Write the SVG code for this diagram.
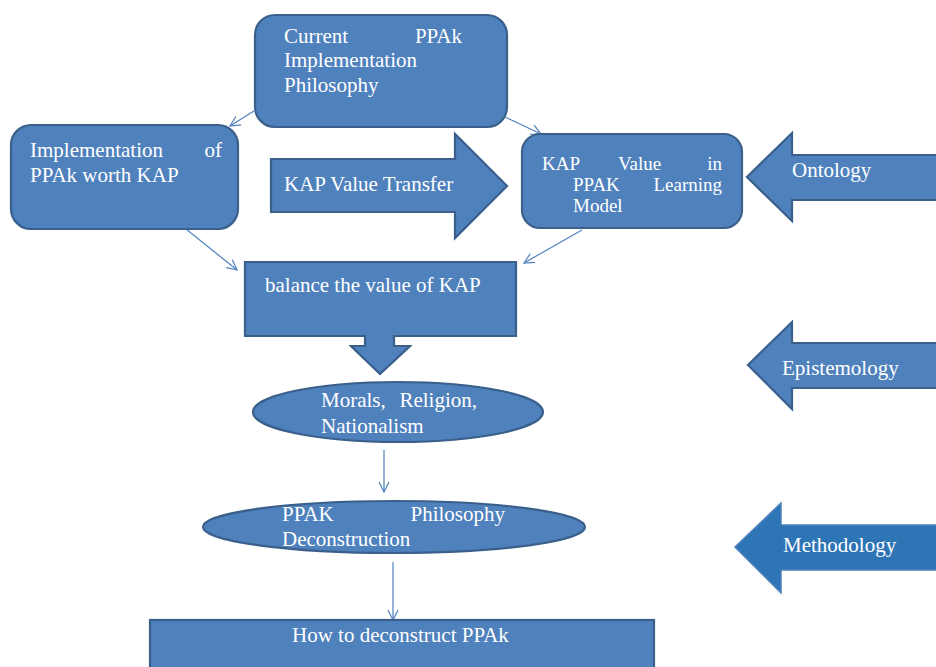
<svg xmlns="http://www.w3.org/2000/svg" width="936" height="667" viewBox="0 0 936 667">
<defs>
<style>
.s{fill:#4F81BD;stroke:#3A5F8B;stroke-width:2.2}
.m{fill:#2E75B6;stroke:#4F81BD;stroke-width:1.5}
.t{font-family:'Liberation Serif','Times New Roman',serif;font-size:21px;fill:#FFFFFF}
.k{font-size:19px}
.c{fill:none;stroke:#4F81BD;stroke-width:1.2}
</style>
<marker id="ah" markerWidth="12" markerHeight="12" refX="11" refY="6" orient="auto" markerUnits="userSpaceOnUse">
<path d="M1,1 L11,6 L1,11" fill="none" stroke="#4F81BD" stroke-width="1.2"/>
</marker>
</defs>
<rect width="936" height="667" fill="#FFFFFF"/>
<g id="connectors">
<line class="c" x1="254" y1="111" x2="230" y2="126" marker-end="url(#ah)"/>
<line class="c" x1="505" y1="117" x2="541" y2="134" marker-end="url(#ah)"/>
<line class="c" x1="186" y1="229" x2="237" y2="270" marker-end="url(#ah)"/>
<line class="c" x1="582" y1="230" x2="524" y2="263" marker-end="url(#ah)"/>
<line class="c" x1="384" y1="450" x2="384" y2="492" marker-end="url(#ah)"/>
<line class="c" x1="393" y1="562" x2="393" y2="620" marker-end="url(#ah)"/>
</g>
<g id="current">
<rect class="s" x="255" y="15" width="252" height="112" rx="20"/>
<text class="t" x="284" y="43">Current</text>
<text class="t" x="462" y="43" text-anchor="end">PPAk</text>
<text class="t" x="284" y="67">Implementation</text>
<text class="t" x="284" y="92">Philosophy</text>
</g>
<g id="implementation">
<rect class="s" x="11" y="125" width="227" height="104" rx="20"/>
<text class="t" x="30" y="157">Implementation</text>
<text class="t" x="222" y="157" text-anchor="end">of</text>
<text class="t" x="30" y="182">PPAk worth KAP</text>
</g>
<g id="transfer">
<path class="s" d="M271,159 L455,159 L455,134 L507,186 L455,238 L455,212 L271,212 Z"/>
<text class="t" x="284" y="191">KAP Value Transfer</text>
</g>
<g id="kapvalue">
<rect class="s" x="522" y="134" width="220" height="94" rx="18"/>
<text class="t k" x="542" y="170">KAP</text>
<text class="t k" x="618" y="170">Value</text>
<text class="t k" x="722" y="170" text-anchor="end">in</text>
<text class="t k" x="573" y="191">PPAK</text>
<text class="t k" x="722" y="191" text-anchor="end">Learning</text>
<text class="t k" x="573" y="212">Model</text>
</g>
<g id="ontology">
<path class="s" d="M940,155 L792,155 L792,133 L747,177 L792,221 L792,200 L940,200 Z"/>
<text class="t" x="792" y="177">Ontology</text>
</g>
<g id="balance">
<path class="s" d="M245,262 L516,262 L516,336 L394,336 L394,346 L410,346 L380,374 L351,346 L365,346 L365,336 L245,336 Z"/>
<text class="t" x="265" y="292">balance the value of KAP</text>
</g>
<g id="morals">
<ellipse class="s" cx="398" cy="412" rx="145" ry="30"/>
<text class="t" x="321" y="407">Morals,</text>
<text class="t" x="477" y="407" text-anchor="end">Religion,</text>
<text class="t" x="321" y="433">Nationalism</text>
</g>
<g id="epistemology">
<path class="s" d="M940,343 L792,343 L792,322 L748,365 L792,409 L792,388 L940,388 Z"/>
<text class="t" x="782" y="375">Epistemology</text>
</g>
<g id="deconstruction">
<ellipse class="s" cx="394" cy="527" rx="191" ry="26"/>
<text class="t" x="282" y="521">PPAK</text>
<text class="t" x="505" y="521" text-anchor="end">Philosophy</text>
<text class="t" x="282" y="546">Deconstruction</text>
</g>
<g id="methodology">
<path class="m" d="M940,525 L781,525 L781,503 L735,547 L781,593 L781,570 L940,570 Z"/>
<text class="t" x="783" y="552">Methodology</text>
</g>
<g id="howto">
<rect class="s" x="150" y="620" width="504" height="60"/>
<text class="t" x="292" y="642">How to deconstruct PPAk</text>
</g>
</svg>
